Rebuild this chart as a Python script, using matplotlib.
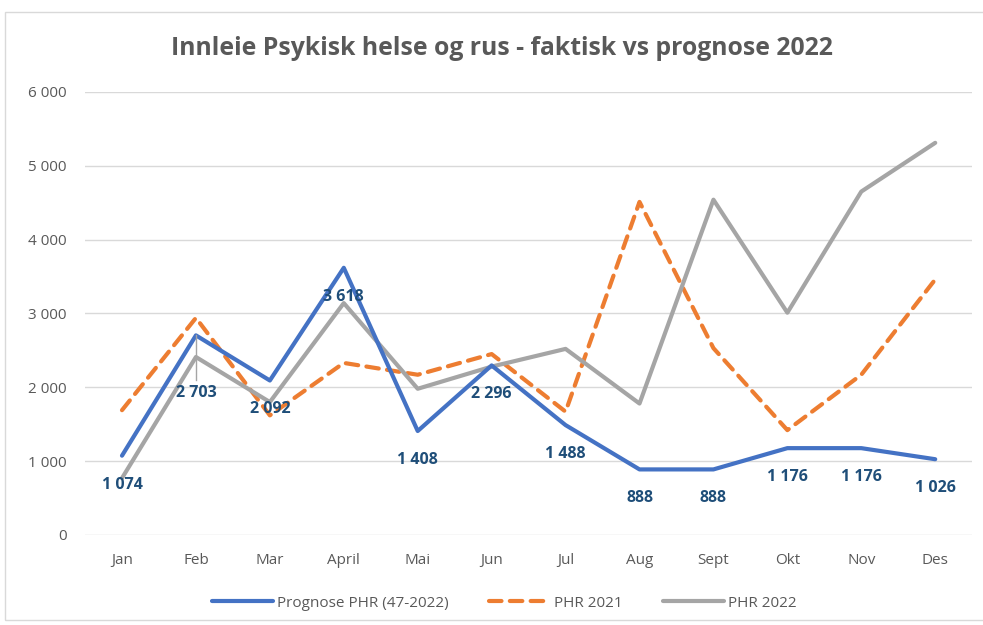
import matplotlib
matplotlib.use("Agg")
import matplotlib.pyplot as plt
from matplotlib.patches import Rectangle

months = ["Jan", "Feb", "Mar", "April", "Mai", "Jun", "Jul", "Aug", "Sept", "Okt", "Nov", "Des"]
prognose = [1074, 2703, 2092, 3618, 1408, 2296, 1488, 888, 888, 1176, 1176, 1026]
phr2021 = [1690, 2940, 1620, 2330, 2170, 2450, 1670, 4510, 2530, 1420, 2170, 3460]
phr2022 = [770, 2410, 1800, 3140, 1980, 2280, 2520, 1780, 4540, 3010, 4650, 5310]

plt.rcParams['font.family'] = ['Open Sans', 'DejaVu Sans']
grey_txt = '#595959'

def fmt(v):
    return f"{v:,}".replace(",", " ")

fig = plt.figure(figsize=(9.83, 6.25), dpi=100)
fig.patches.append(Rectangle((5 / 983, 5 / 625), 1, 608 / 625, transform=fig.transFigure,
                             fill=False, edgecolor='#D9D9D9', linewidth=1))
ax = fig.add_axes([0.0865, 0.144, 0.9025, 0.709])

x = list(range(len(months)))
ax.plot(x, prognose, color='#4472C4', lw=3, solid_capstyle='round', label='Prognose PHR (47-2022)', zorder=3)
ax.plot(x, phr2021, color='#ED7D31', lw=3, linestyle=(0, (3, 2)), dash_capstyle='round', label='PHR 2021', zorder=2)
ax.plot(x, phr2022, color='#A5A5A5', lw=3, solid_capstyle='round', label='PHR 2022', zorder=2)

# data labels under the forecast line (Feb has a leader line)
for i, v in enumerate(prognose):
    off = -29
    if i == 1:
        off = -58
        ax.plot([i, i], [v, v - 600], color='#A5A5A5', lw=1, zorder=4)
    ax.annotate(fmt(v), xy=(i, v), xytext=(0, off * 0.72), textcoords='offset points',
                ha='center', va='center', fontsize=11.5, fontweight='bold', color='#1F4E79', zorder=5)

ax.set_xlim(-0.5, 11.5)
ax.set_ylim(0, 6000)
ax.set_yticks(range(0, 6001, 1000))
ax.set_yticklabels([fmt(v) for v in range(0, 6001, 1000)])
ax.set_xticks(x)
ax.set_xticklabels(months)
ax.tick_params(length=0, colors=grey_txt, labelsize=11)
ax.tick_params(axis='x', pad=13)
ax.tick_params(axis='y', pad=13)
ax.grid(axis='y', color='#D9D9D9', lw=1)
ax.set_axisbelow(True)
for s in ax.spines.values():
    s.set_visible(False)

fig.text(0.511, 0.923, "Innleie Psykisk helse og rus - faktisk vs prognose 2022", ha='center', va='center',
         fontsize=17.8, fontweight='bold', color=grey_txt)

fig.legend(loc='center', bbox_to_anchor=(0.513, 0.035), ncol=3, frameon=False, fontsize=11,
           labelcolor=grey_txt, handlelength=4.0, handletextpad=0.3, columnspacing=2.6)

fig.savefig("out.png", dpi=100)
